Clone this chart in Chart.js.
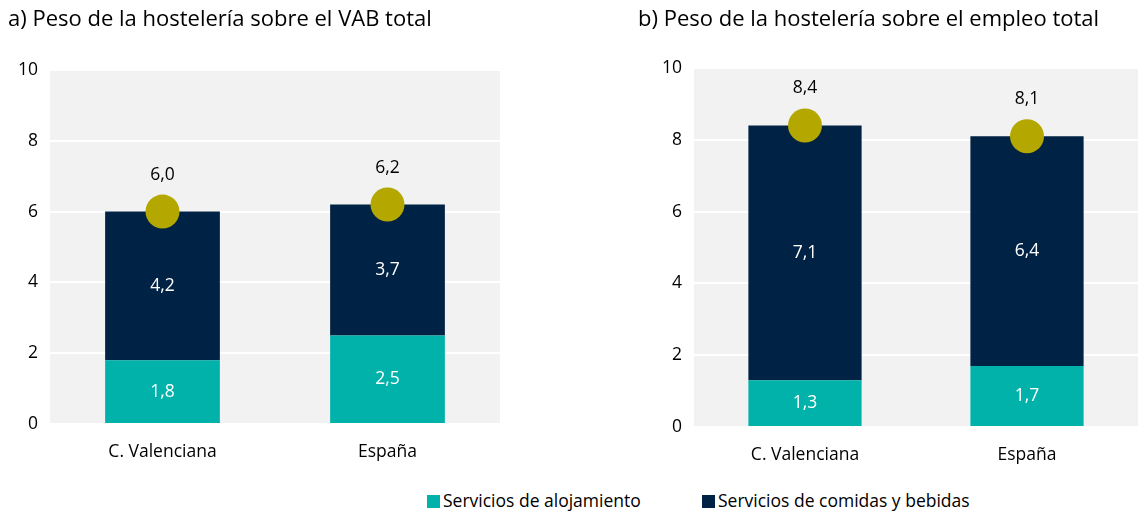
<!DOCTYPE html>
<html>
<head>
<meta charset="utf-8">
<script src="https://cdn.jsdelivr.net/npm/chart.js@4.4.1/dist/chart.umd.min.js"></script>
<style>
  html, body { margin: 0; padding: 0; background: #ffffff; width: 1139px; height: 511px; overflow: hidden; }
  #chartA { position: absolute; left: 0; top: 0; }
  #chartB { position: absolute; left: 570px; top: 0; }
  #legend { position: absolute; left: 0; top: 488px; width: 1139px; height: 23px; font-family: "Open Sans", "Noto Sans", sans-serif; font-size: 17.5px; color: #000; }
  .lg { position: absolute; top: 0; white-space: nowrap; line-height: 24px; }
  .sw { display: inline-block; width: 13px; height: 13px; margin-right: 3px; vertical-align: -1px; }
</style>
</head>
<body>
<canvas id="chartA" width="570" height="480"></canvas>
<canvas id="chartB" width="569" height="480"></canvas>
<div id="legend">
  <span class="lg" style="left:427px"><span class="sw" style="background:#00b2a9"></span>Servicios de alojamiento</span>
  <span class="lg" style="left:702px"><span class="sw" style="background:#002244"></span>Servicios de comidas y bebidas</span>
</div>
<script>
const categories = ["C. Valenciana", "España"];
const seriesNames = ["Servicios de alojamiento", "Servicios de comidas y bebidas", "Total"];
const titleA = "a) Peso de la hostelería sobre el VAB total";
const titleB = "b) Peso de la hostelería sobre el empleo total";
const vabAlojamiento = [1.8, 2.5];
const vabComidas = [4.2, 3.7];
const vabTotal = [6.0, 6.2];
const empleoAlojamiento = [1.3, 1.7];
const empleoComidas = [7.1, 6.4];
const empleoTotal = [8.4, 8.1];
const yTicks = [0, 2, 4, 6, 8, 10];

const FONT = '"Open Sans", "Noto Sans", sans-serif';
const fmt = v => v.toFixed(1).replace('.', ',');

const bgPlugin = {
  id: 'plotBg',
  beforeDraw(chart) {
    const {ctx, chartArea: a} = chart;
    ctx.save();
    ctx.fillStyle = '#f2f2f2';
    ctx.fillRect(a.left, a.top, a.right - a.left, a.bottom - a.top);
    ctx.restore();
  }
};

const labelPlugin = {
  id: 'valueLabels',
  afterDatasetsDraw(chart) {
    const ctx = chart.ctx;
    ctx.save();
    ctx.font = '17.5px ' + FONT;
    ctx.textAlign = 'center';
    ctx.textBaseline = 'middle';
    chart.data.datasets.forEach((ds, di) => {
      const meta = chart.getDatasetMeta(di);
      meta.data.forEach((el, i) => {
        const v = ds.data[i];
        if (ds.type === 'line') {
          ctx.fillStyle = '#000000';
          ctx.fillText(fmt(v), el.x, el.y - 37);
        } else {
          ctx.fillStyle = '#ffffff';
          ctx.fillText(fmt(v), el.x, (el.y + el.base) / 2);
        }
      });
    });
    ctx.restore();
  }
};

function makeChart(id, title, aloj, com, tot, pad, yWidth) {
  return new Chart(document.getElementById(id), {
    data: {
      labels: categories,
      datasets: [
        { type: 'line', label: seriesNames[2], data: tot, stack: 'total', showLine: false, clip: false,
          pointRadius: 17, pointHoverRadius: 17, pointBackgroundColor: '#b4a800', pointBorderWidth: 0, order: 0 },
        { type: 'bar', label: seriesNames[0], data: aloj, backgroundColor: '#00b2a9', stack: 's', order: 1,
          barPercentage: 1, categoryPercentage: 0.51 },
        { type: 'bar', label: seriesNames[1], data: com, backgroundColor: '#002244', stack: 's', order: 1,
          barPercentage: 1, categoryPercentage: 0.51 }
      ]
    },
    options: {
      responsive: false,
      animation: false,
      events: [],
      layout: { autoPadding: false, padding: { left: pad.left, right: pad.right, top: 0, bottom: pad.bottom } },
      plugins: {
        legend: { display: false },
        tooltip: { enabled: false },
        title: {
          display: true, text: title, align: 'start', color: '#000000',
          font: { family: FONT, size: 22, weight: 'normal' },
          padding: { top: pad.titleTop, bottom: pad.titleBottom }
        }
      },
      scales: {
        x: {
          stacked: true,
          afterFit(s) { s.height = 40; s.paddingLeft = 0; s.paddingRight = 0; },
          grid: { display: false, drawTicks: false },
          border: { display: false },
          ticks: { color: '#000000', font: { family: FONT, size: 17.5 }, padding: 18 }
        },
        y: {
          stacked: true,
          min: 0, max: 10,
          afterBuildTicks(s) { s.ticks = yTicks.map(v => ({ value: v })); },
          afterFit(s) { s.width = yWidth; },
          grid: { color: '#ffffff', lineWidth: 2, drawTicks: false },
          border: { display: false },
          ticks: { color: '#000000', font: { family: FONT, size: 17.5 }, padding: 12,
                   callback: v => String(v) }
        }
      }
    },
    plugins: [bgPlugin, labelPlugin]
  });
}

makeChart('chartA', titleA, vabAlojamiento, vabComidas, vabTotal,
  { left: 8, right: 70, bottom: 16, titleTop: 7, titleBottom: 36.6 }, 42);
makeChart('chartB', titleB, empleoAlojamiento, empleoComidas, empleoTotal,
  { left: 68, right: 1, bottom: 13, titleTop: 7, titleBottom: 34.6 }, 56);
</script>
</body>
</html>
